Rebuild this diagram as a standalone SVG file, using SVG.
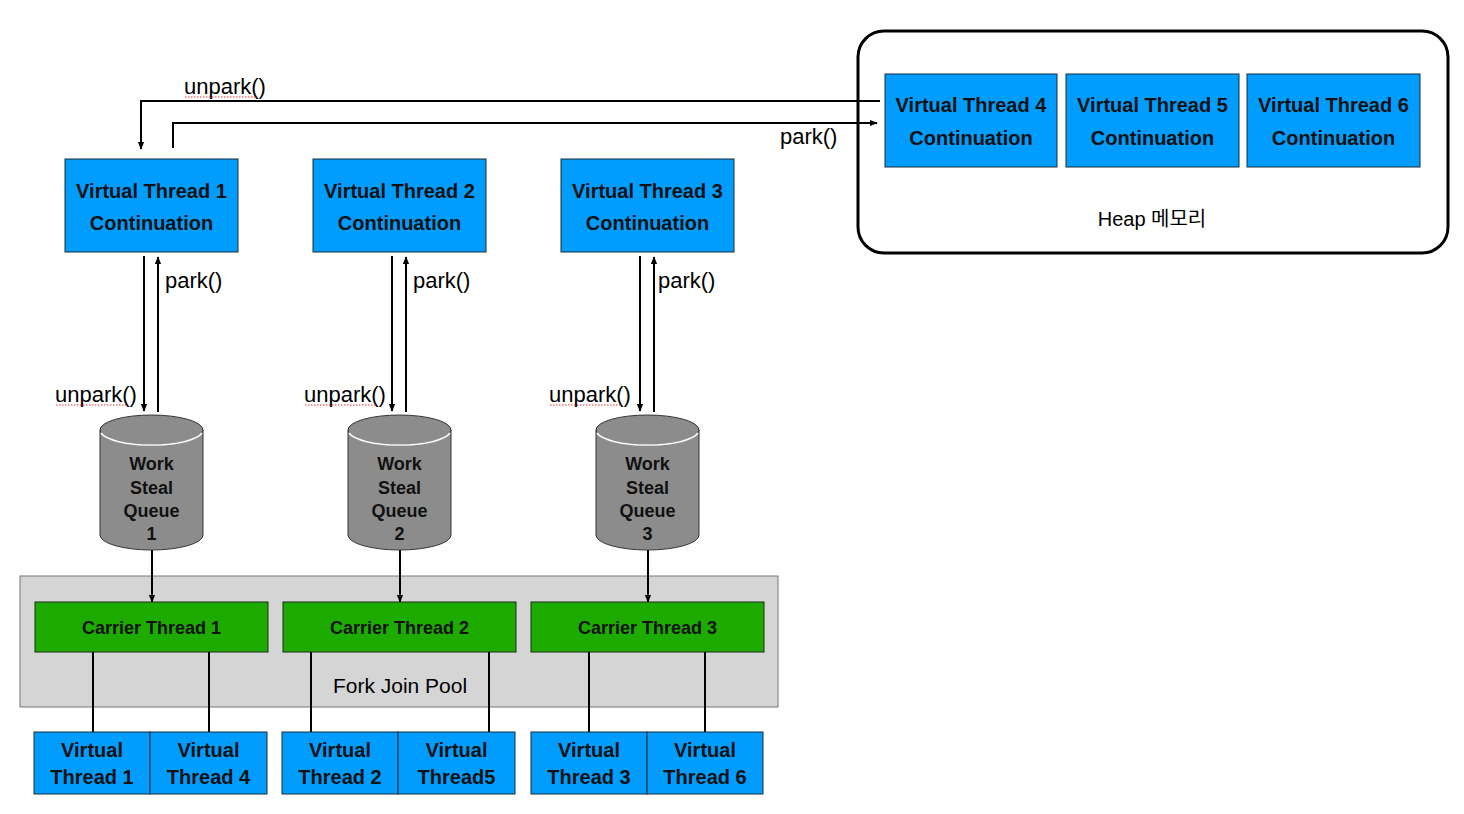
<svg xmlns="http://www.w3.org/2000/svg" width="1464" height="814" viewBox="0 0 1464 814">
<defs>
<marker id="ah" viewBox="0 0 10 10" refX="9" refY="5" markerWidth="8" markerHeight="8" markerUnits="userSpaceOnUse" orient="auto">
<path d="M0,1 L10,5 L0,9 z" fill="#000"/>
</marker>
<style>
.vt{fill:#009dff;stroke:#1a2a3a;stroke-width:1}
.ct{fill:#1eab00;stroke:#1a2a1a;stroke-width:1}
.t{font-family:"Liberation Sans",Arial,sans-serif;font-size:20px;font-weight:bold;fill:#111;text-anchor:middle}
.s{font-size:18px}
.lbl{font-family:"Liberation Sans",Arial,sans-serif;font-size:22px;fill:#000}
.c{stroke:#000;stroke-width:2;fill:none}
.cyl{fill:#8c8c8c;stroke:#333;stroke-width:1}
.sq{stroke:#e33;stroke-width:1.2;stroke-dasharray:1.5 1.5;fill:none}
</style>
</defs>
<rect width="1464" height="814" fill="#fff"/>

<g id="heap">
<rect x="858" y="31" width="590" height="222" rx="26" fill="#fff" stroke="#000" stroke-width="3"/>
<text x="1152" y="226" style="font-family:'Liberation Sans','Noto Sans CJK KR',sans-serif;font-size:20px;text-anchor:middle">Heap 메모리</text>
</g>
<g id="vt4c"><rect class="vt" x="885" y="74" width="172" height="93"/><text class="t" x="971" y="112">Virtual Thread 4</text><text class="t" x="971" y="145">Continuation</text></g>
<g id="vt5c"><rect class="vt" x="1066" y="74" width="173" height="93"/><text class="t" x="1152.5" y="112">Virtual Thread 5</text><text class="t" x="1152.5" y="145">Continuation</text></g>
<g id="vt6c"><rect class="vt" x="1247" y="74" width="173" height="93"/><text class="t" x="1333.5" y="112">Virtual Thread 6</text><text class="t" x="1333.5" y="145">Continuation</text></g>

<g id="vt1c"><rect class="vt" x="65" y="159" width="173" height="93"/><text class="t" x="151.5" y="198">Virtual Thread 1</text><text class="t" x="151.5" y="230">Continuation</text></g>
<g id="vt2c"><rect class="vt" x="313" y="159" width="173" height="93"/><text class="t" x="399.5" y="198">Virtual Thread 2</text><text class="t" x="399.5" y="230">Continuation</text></g>
<g id="vt3c"><rect class="vt" x="561" y="159" width="173" height="93"/><text class="t" x="647.5" y="198">Virtual Thread 3</text><text class="t" x="647.5" y="230">Continuation</text></g>

<g id="pool">
<rect x="20" y="576" width="758" height="131" fill="#d5d5d5" stroke="#777" stroke-width="1"/>
<text x="400" y="693" style="font-family:'Liberation Sans',Arial,sans-serif;font-size:21px;text-anchor:middle">Fork Join Pool</text>
</g>

<g id="connectors">
<polyline class="c" points="880,101 141,101 141,149" marker-end="url(#ah)"/>
<polyline class="c" points="173,148 173,123 877,123" marker-end="url(#ah)"/>

<line class="c" x1="144" y1="256" x2="144" y2="411" marker-end="url(#ah)"/>
<line class="c" x1="158" y1="412" x2="158" y2="257" marker-end="url(#ah)"/>
<line class="c" x1="392" y1="256" x2="392" y2="411" marker-end="url(#ah)"/>
<line class="c" x1="406" y1="412" x2="406" y2="257" marker-end="url(#ah)"/>
<line class="c" x1="640" y1="256" x2="640" y2="411" marker-end="url(#ah)"/>
<line class="c" x1="654" y1="412" x2="654" y2="257" marker-end="url(#ah)"/>

<line class="c" x1="152" y1="550" x2="152" y2="602" marker-end="url(#ah)"/>
<line class="c" x1="400" y1="550" x2="400" y2="602" marker-end="url(#ah)"/>
<line class="c" x1="648" y1="550" x2="648" y2="602" marker-end="url(#ah)"/>

<line class="c" x1="93" y1="652" x2="93" y2="732"/>
<line class="c" x1="209" y1="652" x2="209" y2="732"/>
<line class="c" x1="311" y1="652" x2="311" y2="732"/>
<line class="c" x1="489" y1="652" x2="489" y2="732"/>
<line class="c" x1="589" y1="652" x2="589" y2="732"/>
<line class="c" x1="705" y1="652" x2="705" y2="732"/>

<text class="lbl" x="184" y="94">unpark()</text>
<path class="sq" d="M185,97 H256"/>
<text class="lbl" x="780" y="144">park()</text>
<text class="lbl" x="165" y="288">park()</text>
<text class="lbl" x="413" y="288">park()</text>
<text class="lbl" x="658" y="288">park()</text>
<text class="lbl" x="55" y="402">unpark()</text>
<path class="sq" d="M56,405 H127"/>
<text class="lbl" x="304" y="402">unpark()</text>
<path class="sq" d="M305,405 H376"/>
<text class="lbl" x="549" y="402">unpark()</text>
<path class="sq" d="M550,405 H621"/>
</g>

<g id="wsq1">
<path class="cyl" d="M100,430 V535 A51.5,15 0 0 0 203,535 V430"/>
<ellipse cx="151.5" cy="430" rx="51.5" ry="15" fill="#8c8c8c" stroke="#333"/>
<path d="M101,433 A51.5,15 0 0 0 202,433" fill="none" stroke="#fff" stroke-width="1.5"/>
<text class="t s" x="151.5" y="470">Work</text><text class="t s" x="151.5" y="494">Steal</text><text class="t s" x="151.5" y="517">Queue</text><text class="t s" x="151.5" y="540">1</text>
</g>
<g id="wsq2">
<path class="cyl" d="M348,430 V535 A51.5,15 0 0 0 451,535 V430"/>
<ellipse cx="399.5" cy="430" rx="51.5" ry="15" fill="#8c8c8c" stroke="#333"/>
<path d="M349,433 A51.5,15 0 0 0 450,433" fill="none" stroke="#fff" stroke-width="1.5"/>
<text class="t s" x="399.5" y="470">Work</text><text class="t s" x="399.5" y="494">Steal</text><text class="t s" x="399.5" y="517">Queue</text><text class="t s" x="399.5" y="540">2</text>
</g>
<g id="wsq3">
<path class="cyl" d="M596,430 V535 A51.5,15 0 0 0 699,535 V430"/>
<ellipse cx="647.5" cy="430" rx="51.5" ry="15" fill="#8c8c8c" stroke="#333"/>
<path d="M597,433 A51.5,15 0 0 0 698,433" fill="none" stroke="#fff" stroke-width="1.5"/>
<text class="t s" x="647.5" y="470">Work</text><text class="t s" x="647.5" y="494">Steal</text><text class="t s" x="647.5" y="517">Queue</text><text class="t s" x="647.5" y="540">3</text>
</g>

<g id="ct1"><rect class="ct" x="35" y="602" width="233" height="50"/><text class="t s" x="151.5" y="634">Carrier Thread 1</text></g>
<g id="ct2"><rect class="ct" x="283" y="602" width="233" height="50"/><text class="t s" x="399.5" y="634">Carrier Thread 2</text></g>
<g id="ct3"><rect class="ct" x="531" y="602" width="233" height="50"/><text class="t s" x="647.5" y="634">Carrier Thread 3</text></g>

<g id="vt1"><rect class="vt" x="34" y="732" width="116" height="62"/><text class="t" x="92" y="757">Virtual</text><text class="t" x="92" y="784">Thread 1</text></g>
<g id="vt4"><rect class="vt" x="150" y="732" width="117" height="62"/><text class="t" x="208.5" y="757">Virtual</text><text class="t" x="208.5" y="784">Thread 4</text></g>
<g id="vt2"><rect class="vt" x="282" y="732" width="116" height="62"/><text class="t" x="340" y="757">Virtual</text><text class="t" x="340" y="784">Thread 2</text></g>
<g id="vt5"><rect class="vt" x="398" y="732" width="117" height="62"/><text class="t" x="456.5" y="757">Virtual</text><text class="t" x="456.5" y="784">Thread5</text></g>
<g id="vt3"><rect class="vt" x="531" y="732" width="116" height="62"/><text class="t" x="589" y="757">Virtual</text><text class="t" x="589" y="784">Thread 3</text></g>
<g id="vt6"><rect class="vt" x="647" y="732" width="116" height="62"/><text class="t" x="705" y="757">Virtual</text><text class="t" x="705" y="784">Thread 6</text></g>
</svg>
